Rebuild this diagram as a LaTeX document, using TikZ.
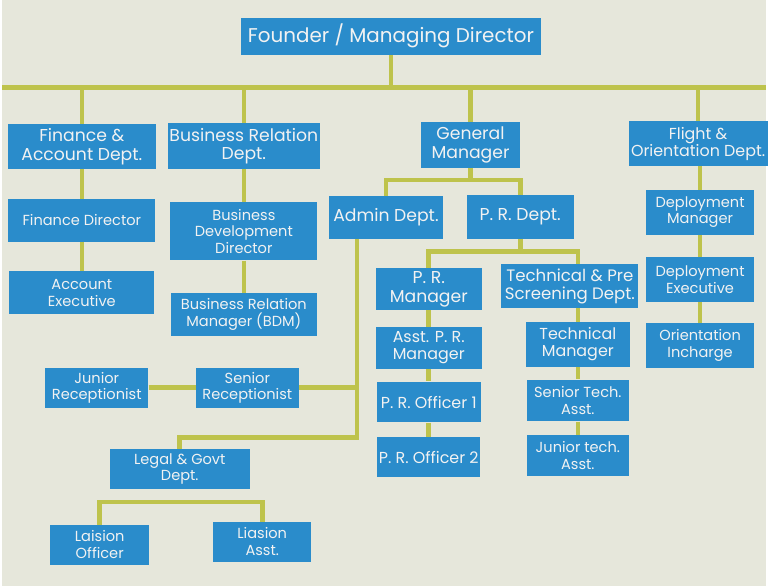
\documentclass[tikz,border=0pt]{standalone}
\usepackage{fontspec}
\setmainfont{Poppins}
\definecolor{boardbg}{HTML}{E6E7DB}
\definecolor{unitblue}{HTML}{2A8CCB}
\definecolor{linkolive}{HTML}{BEC34C}

\begin{document}
\begin{tikzpicture}
  [x=0.75pt,y=-0.75pt,
  unit/.style={rectangle,fill=unitblue,text=white!95!black,inner sep=1pt,align=center,
    font=\fontsize{11}{12.5}\selectfont},
  big unit/.style={unit,font=\fontsize{13}{14}\selectfont},
  link/.style={draw=linkolive,line width=3.5pt}
  ]
  \fill[boardbg] (0,0) rectangle (768,590);
  \node[unit,minimum width=226.5pt,minimum height=27.75pt,font=\fontsize{15}{16}\selectfont]
    (founder) at (391,36.5) {Founder / Managing Director};
  \node[big unit,minimum width=111.75pt,minimum height=33.75pt] (finance dept) at (80,147.5) {Finance \&\\Account Dept.};
  \node[big unit,minimum width=113.25pt,minimum height=34.5pt] (busrel dept) at (243,147) {Business Relation\\Dept.};
  \node[big unit,minimum width=75pt,minimum height=34.5pt] (gm) at (471,146) {General\\Manager};
  \node[big unit,minimum width=105pt,minimum height=33.75pt,font=\fontsize{12}{13}\selectfont] (flight dept) at (700,144.5) {Flight \&\\Orientation Dept.};
  \node[unit,minimum width=111pt,minimum height=32.25pt] (finance director) at (80,221.5) {Finance Director};
  \node[unit,minimum width=109.5pt,minimum height=32.25pt] (account executive) at (80,294.5) {Account\\Executive};
  \node[unit,minimum width=111pt,minimum height=44.25pt] (bd director) at (243,232.5) {Business\\Development\\Director};
  \node[unit,minimum width=110.25pt,minimum height=32.25pt] (br manager) at (243,316.5) {Business Relation\\Manager (BDM)};
  \node[big unit,minimum width=85.5pt,minimum height=32.25pt] (admin dept) at (386,218.5) {Admin Dept.};
  \node[big unit,minimum width=81pt,minimum height=33pt] (pr dept) at (521,218) {P. R. Dept.};
  \node[unit,minimum width=77.25pt,minimum height=30pt] (senior receptionist) at (246.5,390) {Senior\\Receptionist};
  \node[unit,minimum width=78pt,minimum height=30pt] (junior receptionist) at (95,390) {Junior\\Receptionist};
  \node[unit,minimum width=105.75pt,minimum height=30pt] (legal dept) at (178.5,472) {Legal \& Govt\\Dept.};
  \node[unit,minimum width=75pt,minimum height=30pt] (laision officer) at (98,548) {Laision\\Officer};
  \node[unit,minimum width=74.25pt,minimum height=30pt] (liasion asst) at (261.5,545) {Liasion\\Asst.};
  \node[big unit,minimum width=80.25pt,minimum height=31.5pt] (pr manager) at (429,291) {P. R.\\Manager};
  \node[unit,minimum width=80.25pt,minimum height=31.5pt,font=\fontsize{12}{13}\selectfont] (asst pr manager) at (429,350) {Asst. P. R.\\Manager};
  \node[unit,minimum width=78.75pt,minimum height=30.75pt,font=\fontsize{12}{13}\selectfont] (pr officer 1) at (429,404.5) {P. R. Officer 1};
  \node[unit,minimum width=78pt,minimum height=30pt,font=\fontsize{12}{13}\selectfont] (pr officer 2) at (429,460) {P. R. Officer 2};
  \node[big unit,minimum width=103.5pt,minimum height=33pt,font=\fontsize{12.5}{13.5}\selectfont] (techpre dept) at (571,288) {Technical \& Pre\\Screening Dept.};
  \node[unit,minimum width=78.75pt,minimum height=33.75pt,font=\fontsize{12}{13}\selectfont] (tech manager) at (579,346.5) {Technical\\Manager};
  \node[unit,minimum width=77.25pt,minimum height=31.5pt] (senior tech) at (579,403) {Senior Tech.\\Asst.};
  \node[unit,minimum width=76.5pt,minimum height=30.75pt] (junior tech) at (579,458.5) {Junior tech.\\Asst.};
  \node[unit,minimum width=81.75pt,minimum height=33.75pt] (deployment manager) at (702,213.5) {Deployment\\Manager};
  \node[unit,minimum width=81pt,minimum height=33.75pt] (deployment executive) at (702,281.5) {Deployment\\Executive};
  \node[unit,minimum width=81pt,minimum height=33.75pt] (orientation incharge) at (702,347.5) {Orientation\\Incharge};

  \coordinate (bus west) at (0,88);
  \coordinate (bus east) at (768,88);
  \coordinate (gm fork) at (471,181);
  \coordinate (pr fork) at (521,253);
  \coordinate (admin drop) at (357,440);
  \coordinate (legal fork) at (178,505);

  \draw[link] (bus west) -- (bus east);
  \draw[link] (founder.south) -- (founder.south |- bus west);
  \foreach \dept in {finance dept,busrel dept,gm,flight dept}
    \draw[link] (\dept.north) -- (\dept.north |- bus west);
  \draw[link] (finance dept) -- (finance director) -- (account executive);
  \draw[link] (busrel dept) -- (bd director) -- (br manager);
  \draw[link] (flight dept.south -| deployment manager) -- (deployment manager) -- (deployment executive) -- (orientation incharge);
  \draw[link] (gm) -- (gm fork);
  \draw[link] (admin dept.north) |- (gm fork) -| (pr dept.north);
  \draw[link] (pr dept) -- (pr fork);
  \draw[link] (pr manager.north) |- (pr fork) -| (tech manager |- techpre dept.north);
  \draw[link] (pr manager) -- (asst pr manager) -- (pr officer 1) -- (pr officer 2);
  \draw[link] (tech manager |- techpre dept.south) -- (tech manager) -- (senior tech) -- (junior tech);
  \draw[link] (admin drop |- admin dept.south) -- (admin drop) -| (legal dept.north);
  \draw[link] (senior receptionist.east) -- (senior receptionist.east -| admin drop);
  \draw[link] (junior receptionist) -- (senior receptionist);
  \draw[link] (laision officer.north) |- (legal fork) -| (liasion asst.north);
\end{tikzpicture}
\end{document}
